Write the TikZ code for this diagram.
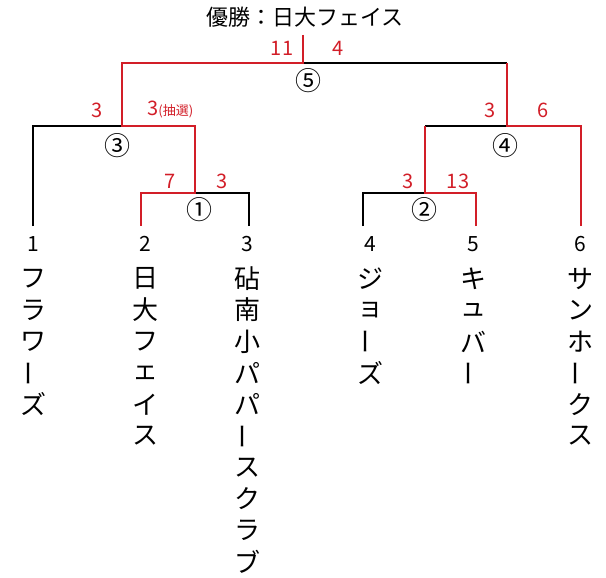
\documentclass[tikz,border=0pt]{standalone}
\usepackage{fontspec}
\setmainfont{Noto Sans CJK JP}
\usetikzlibrary{positioning}
\newcommand{\vbar}{\rotatebox[origin=c]{90}{ー}}
\definecolor{winred}{RGB}{210,30,40}

\begin{document}
\begin{tikzpicture}[
    x=1pt, y=-1pt,
    line width=2.6pt,
    win/.style={draw=winred},
    lose/.style={draw=black},
    score/.style={text=winred, font=\fontsize{20}{20}\selectfont, inner sep=0},
    circ/.style={font=\fontsize{26}{26}\selectfont, inner sep=0},
    teamname/.style={font=\fontsize{26}{26}\selectfont, inner sep=0}
]
\useasboundingbox (0,0) rectangle (606,578);

% Title
\node[font=\fontsize{22}{22}\selectfont] (title) at (305,17) {優勝：日大フェイス};

% Junction points
\coordinate (top) at (303,35);
\coordinate (f) at (303,63);
\coordinate (fl) at (122,63);  \coordinate (fr) at (507,63);
\coordinate (sl) at (122,126); \coordinate (sll) at (33,126);  \coordinate (slr) at (195,126);
\coordinate (sr) at (507,126); \coordinate (srl) at (425,126); \coordinate (srr) at (581,126);
\coordinate (m1) at (195,193); \coordinate (m1l) at (141,193); \coordinate (m1r) at (249,193);
\coordinate (m2) at (425,193); \coordinate (m2l) at (363,193); \coordinate (m2r) at (476,193);
\coordinate (t1) at (33,226);  \coordinate (t2) at (141,226);  \coordinate (t3) at (249,226);
\coordinate (t4) at (363,226); \coordinate (t5) at (476,226);  \coordinate (t6) at (581,226);

% Losing paths
\draw[lose] (f) -- (fr);
\draw[lose] (t1) -- (sll) -- (sl);
\draw[lose] (t3) -- (m1r) -- (m1);
\draw[lose] (t4) -- (m2l) -- (m2);
\draw[lose] (srl) -- (sr);
% Winning paths
\draw[win] (top) -- (f) -- (fl) -- (sl) -- (slr) -- (m1) -- (m1l) -- (t2);
\draw[win] (t5) -- (m2r) -- (m2) -- (srl);
\draw[win] (t6) -- (srr) -- (sr) -- (fr);

% Match numbers
\node[circ] (c5) at (308,81) {⑤};
\node[circ] (c3) at (117,146) {③};
\node[circ] (c4) at (505,146) {④};
\node[circ] (c1) at (199,210) {①};
\node[circ] (c2) at (424,210) {②};

% Scores
\node[score] (s5l) at (282,48) {11};
\node[score] (s5r) at (338,48) {4};
\node[score] (s3l) at (97,110) {3};
\node[score, anchor=west] (s3r) at (146,110) {3\fontsize{13}{13}\selectfont(抽選)};
\node[score] (s4l) at (490,110) {3};
\node[score] (s4r) at (543,110) {6};
\node[score] (s1l) at (170,181) {7};
\node[score] (s1r) at (222,181) {3};
\node[score] (s2l) at (408,181) {3};
\node[score] (s2r) at (458,181) {13};

% Teams
\foreach \n/\x/\team in {
    1/33/{フ,ラ,ワ,\vbar,ズ},
    2/145/{日,大,フ,ェ,イ,ス},
    3/247/{砧,南,小,パ,パ,\vbar,ス,ク,ラ,ブ},
    4/370/{ジ,ョ,\vbar,ズ},
    5/473/{キ,ュ,バ,\vbar},
    6/580/{サ,ン,ホ,\vbar,ク,ス}} {
  \node[teamname, font=\fontsize{21}{21}\selectfont] (no\n) at (\x,244) {\n};
  \foreach \c [count=\i] in \team
    \node[teamname] (tm\n-\i) at (\x,{247+31.5*\i}) {\c};
}
\end{tikzpicture}
\end{document}
